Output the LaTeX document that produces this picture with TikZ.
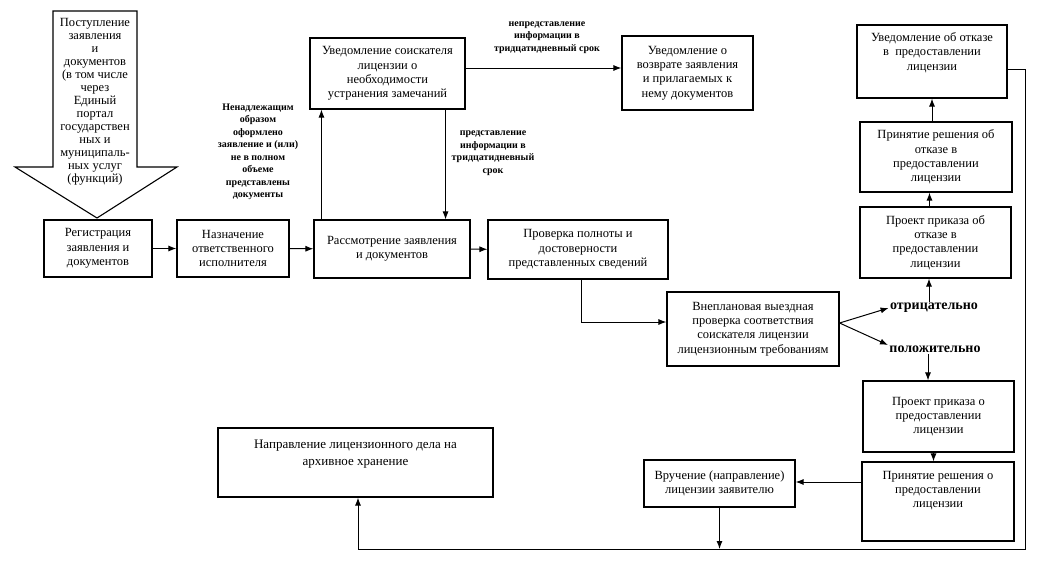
\documentclass[tikz,border=0pt]{standalone}
\usepackage{fontspec}
\setmainfont{Liberation Serif}
\usetikzlibrary{arrows.meta}

\begin{document}
\begin{tikzpicture}[x=1pt, y=-1pt, >={Latex[length=8pt,width=6pt]}, line width=1pt,
  box/.style={draw, line width=1.1pt, align=center, inner sep=2pt, font=\fontsize{12.5}{14.3}\selectfont},
  note/.style={align=center, inner sep=0pt, font=\fontsize{10}{12.5}\selectfont\bfseries},
  verdict/.style={inner sep=1pt, font=\fontsize{14}{16}\selectfont\bfseries}]
\useasboundingbox (0,0) rectangle (1042,565);

\draw[line width=1.1pt](53,11)--(137,11)--(137,167)--(177,167)--(97,218)--(15,167)--(53,167)--cycle;
\node[align=center, inner sep=0pt, font=\fontsize{12.5}{13}\selectfont] (in) at (95,102)
  {Поступление\\ заявления\\ и\\ документов\\ (в том числе\\ через\\ Единый\\ портал\\ государствен\\ ных и\\ муниципаль-\\ ных услуг\\ (функций)};

\node[box, minimum width=108, minimum height=57] (reg) at (98,248.5) {Регистрация\\ заявления и\\ документов};
\node[box, minimum width=112, minimum height=57] (nazn) at (233,248.5) {Назначение\\ ответственного\\ исполнителя};
\node[box, minimum width=156, minimum height=58] (rassm) at (392,249) {Рассмотрение заявления\\ и документов};
\node[box, minimum width=180, minimum height=59] (prov) at (578,249.5) {Проверка полноты и\\ достоверности\\ представленных сведений};
\node[box, minimum width=155, minimum height=71] (uved) at (387.5,73.5) {Уведомление соискателя\\ лицензии о\\ необходимости\\ устранения замечаний};
\node[box, minimum width=131, minimum height=74] (vozvr) at (687.5,73) {Уведомление о\\ возврате заявления\\ и прилагаемых к\\ нему документов};
\node[box, minimum width=150, minimum height=73] (otkazuv) at (932,61.5) {Уведомление об отказе\\ в~ предоставлении\\ лицензии\\[6pt]};
\node[box, minimum width=152, minimum height=70] (otkazpr) at (936,157) {Принятие решения об\\ отказе в\\ предоставлении\\ лицензии};
\node[box, minimum width=151, minimum height=71] (otkazproj) at (935.5,242.5) {Проект приказа об\\ отказе в\\ предоставлении\\ лицензии};
\node[box, minimum width=172, minimum height=74] (vnepl) at (753,329) {Внеплановая выездная\\ проверка соответствия\\ соискателя лицензии\\ лицензионным требованиям};
\node[verdict] (neg) at (934,308) {отрицательно};
\node[verdict] (pos) at (935,349) {положительно};
\node[box, minimum width=151, minimum height=71] (predproj) at (938.5,416.5) {Проект приказа о\\ предоставлении\\ лицензии};
\node[box, minimum width=152, minimum height=79] (predpr) at (938,501.5) {Принятие решения о\\ предоставлении\\ лицензии\\[10pt]};
\node[box, minimum width=151, minimum height=47] (vruch) at (719.5,483.5) {Вручение (направление)\\ лицензии заявителю};
\node[box, minimum width=275, minimum height=69, font=\fontsize{13}{16.5}\selectfont] (arch) at (355.5,462.5) {Направление лицензионного дела на\\ архивное хранение\\[3pt]};

\node[note] (bad) at (258,152) {Ненадлежащим\\ образом\\ оформлено\\ заявление и (или)\\ не в полном\\ объеме\\ представлены\\ документы};
\node[note] (back) at (493,153) {представление\\ информации в\\ тридцатидневный\\ срок};
\node[note] (ret) at (547,37.5) {непредставление\\ информации в\\ тридцатидневный срок};

\draw[->](reg)--(nazn);
\draw[->](nazn)--(rassm);
\draw[->](rassm)--(prov);
\draw[->]([xshift=8]rassm.north west)--([xshift=12]uved.south west);
\draw[->]([xshift=-20]uved.south east)--([xshift=-25]rassm.north east);
\draw[->]([yshift=5.5]uved.east)--([yshift=5.5]uved.east -| vozvr.west);
\draw[->]([xshift=3]prov.south)|-([yshift=7]vnepl.west);
\draw[->]([yshift=6]vnepl.east)--(neg.west);
\draw[->]([yshift=6]vnepl.east)--([yshift=4]pos.west);
\draw[->]([xshift=-5]neg.north)--([xshift=-5]neg.north |- otkazproj.south);
\draw[->]([xshift=-6]otkazproj.north)--([xshift=-6]otkazproj.north |- otkazpr.south);
\draw[->]([xshift=-4]otkazpr.north)--([xshift=-4]otkazpr.north |- otkazuv.south);
\draw[->]([xshift=-7]pos.south)--([xshift=-7]pos.south |- predproj.north);
\draw[->]([xshift=-5]predproj.south)--([xshift=-5]predproj.south |- predpr.north);
\draw[->]([yshift=19.5]predpr.west)--([yshift=19.5]predpr.west -| vruch.east);

\coordinate (rt) at (1025,549);
\draw[->](vruch.south)--(vruch.south |- rt);
\draw[->]([yshift=-7.5]otkazuv.east)-|(rt)-|([xshift=2.5]arch.south);

\end{tikzpicture}
\end{document}
